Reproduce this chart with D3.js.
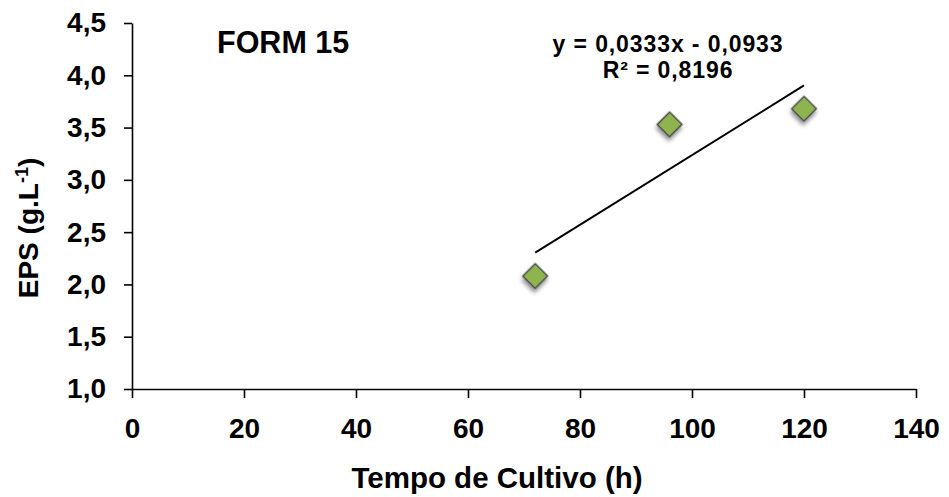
<!DOCTYPE html>
<html>
<head>
<meta charset="utf-8">
<script src="https://cdn.jsdelivr.net/npm/d3@7"></script>
<style>
  body { margin: 0; background: #fff; }
  text { font-family: "Liberation Sans", Arial, sans-serif; font-weight: bold; fill: #000; }
</style>
</head>
<body>
<div id="chart"></div>
<script>
// data
const tempos = [72, 96, 120];
const epsValues = [2.08, 3.53, 3.68];
const xTicks = [0, 20, 40, 60, 80, 100, 120, 140];
const yTicks = [1.0, 1.5, 2.0, 2.5, 3.0, 3.5, 4.0, 4.5];
const trendSlope = 0.0333;
const trendIntercept = -0.0933;
const trendLabel = ["y = 0,0333x - 0,0933", "R² = 0,8196"];
const chartTitle = "FORM 15";

const width = 949, height = 497;
const margin = {top: 23, right: 33, bottom: 108, left: 132};
const innerW = width - margin.left - margin.right;
const innerH = height - margin.top - margin.bottom;

const svg = d3.select("#chart")
  .append("svg")
    .attr("width", width)
    .attr("height", height);

// drop shadow for the markers
const defs = svg.append("defs");
defs.append("filter")
    .attr("id", "shadow")
    .attr("x", "-50%").attr("y", "-50%")
    .attr("width", "200%").attr("height", "200%")
  .append("feDropShadow")
    .attr("dx", 2).attr("dy", 3)
    .attr("stdDeviation", 2)
    .attr("flood-color", "#000")
    .attr("flood-opacity", 0.45);

const g = svg.append("g")
    .attr("transform", `translate(${margin.left}, ${margin.top})`);

const x = d3.scaleLinear().domain([0, 140]).range([0, innerW]);
const y = d3.scaleLinear().domain([1, 4.5]).range([innerH, 0]);

const fmt = d => d3.format(".1f")(d).replace(".", ",");

// axes
const xAxis = g.append("g")
    .attr("transform", `translate(0, ${innerH})`)
    .call(d3.axisBottom(x).tickValues(xTicks).tickSize(9).tickSizeOuter(0).tickPadding(20));
const yAxis = g.append("g")
    .call(d3.axisLeft(y).tickValues(yTicks).tickSize(8).tickSizeOuter(0).tickPadding(18).tickFormat(fmt));

[xAxis, yAxis].forEach(a => {
  a.selectAll("path, line").attr("stroke", "#000").attr("stroke-width", 1.6);
  a.selectAll("text")
    .style("font-family", '"Liberation Sans", Arial, sans-serif')
    .style("font-weight", "bold")
    .style("font-size", "28px")
    .attr("fill", "#000");
});

// trendline
const trendX = d3.extent(tempos);
g.append("line")
    .attr("x1", x(trendX[0]))
    .attr("y1", y(trendSlope * trendX[0] + trendIntercept))
    .attr("x2", x(trendX[1]))
    .attr("y2", y(trendSlope * trendX[1] + trendIntercept))
    .attr("stroke", "#000")
    .attr("stroke-width", 2);

// diamond markers
const pts = tempos.map((t, i) => ({t: t, v: epsValues[i]}));
g.selectAll(".pt")
  .data(pts)
  .join("path")
    .attr("class", "pt")
    .attr("d", d3.symbol(d3.symbolSquare, 300))
    .attr("transform", d => `translate(${x(d.t)}, ${y(d.v)}) rotate(45)`)
    .attr("fill", "#8fb34f")
    .attr("stroke", "#4a4a4a")
    .attr("stroke-width", 1.5)
    .attr("filter", "url(#shadow)");

// title
svg.append("text")
    .attr("x", 217)
    .attr("y", 53)
    .style("font-size", "30.5px")
    .text(chartTitle);

// trendline label
svg.selectAll(".eq")
  .data(trendLabel)
  .join("text")
    .attr("class", "eq")
    .attr("x", 668)
    .attr("y", (d, i) => 52 + i * 26)
    .attr("text-anchor", "middle")
    .style("font-size", "23px")
    .style("letter-spacing", "0.9px")
    .text(d => d);

// axis titles
svg.append("text")
    .attr("x", 497)
    .attr("y", 488)
    .attr("text-anchor", "middle")
    .style("font-size", "29.5px")
    .text("Tempo de Cultivo (h)");

const yTitle = svg.append("text")
    .attr("transform", "translate(38, 228) rotate(-90)")
    .attr("text-anchor", "middle")
    .style("font-size", "28px");
yTitle.append("tspan").text("EPS (g.L");
yTitle.append("tspan").attr("dy", -10).style("font-size", "18px").text("-1");
yTitle.append("tspan").attr("dy", 10).text(")");
</script>
</body>
</html>
